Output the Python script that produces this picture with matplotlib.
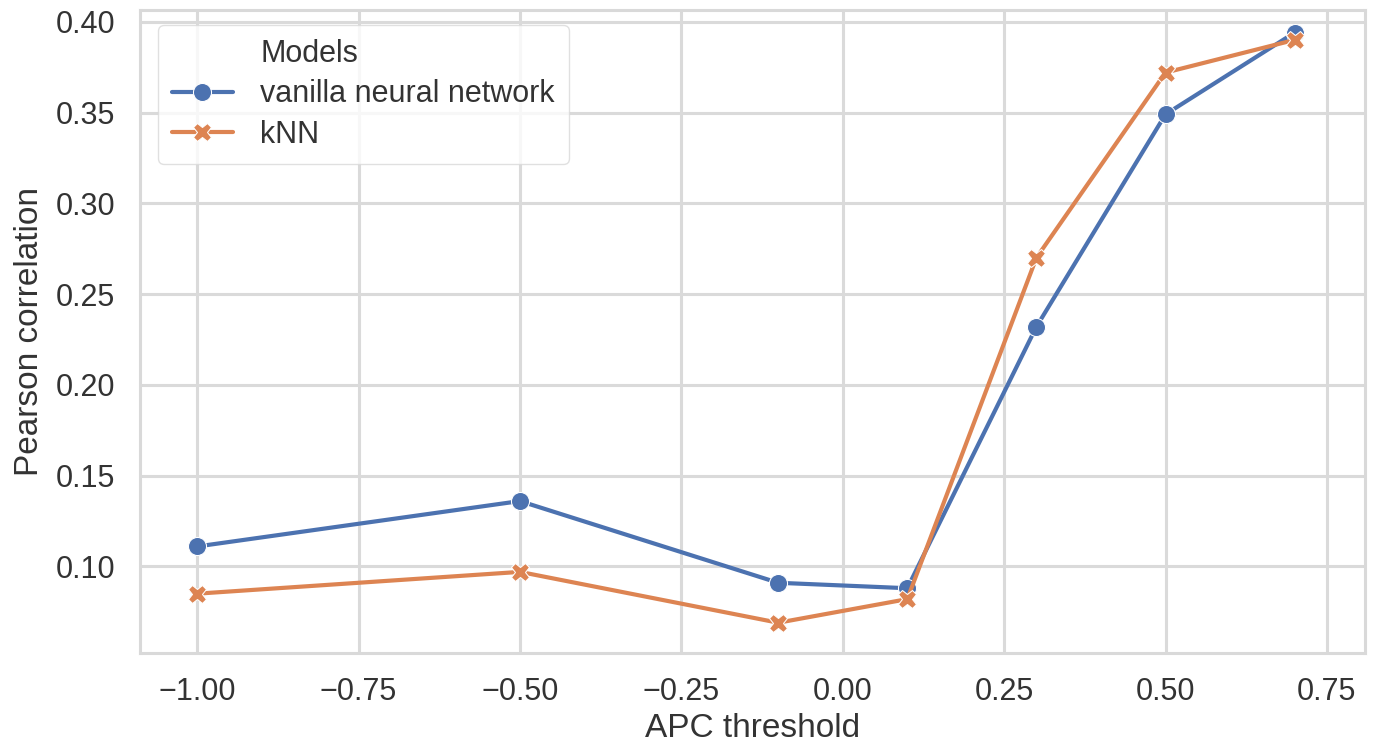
import matplotlib
matplotlib.use("Agg")
import matplotlib.pyplot as plt
from matplotlib.lines import Line2D
import seaborn as sns
import pandas as pd

# APC thresholds and Pearson correlation per model
thresholds = [-1.0, -0.5, -0.1, 0.1, 0.3, 0.5, 0.7]
vanilla_nn = [0.111, 0.136, 0.091, 0.088, 0.232, 0.349, 0.394]
knn = [0.085, 0.097, 0.069, 0.082, 0.270, 0.372, 0.390]
model_names = ["vanilla neural network", "kNN"]

df = pd.DataFrame({
    "APC threshold": thresholds * 2,
    "Pearson correlation": vanilla_nn + knn,
    "Models": [model_names[0]] * len(thresholds) + [model_names[1]] * len(thresholds),
})

sns.set_theme(style="whitegrid")
plt.rcParams['font.family'] = ['Arial', 'Liberation Sans', 'DejaVu Sans']
text_col = "#333333"

fig, ax = plt.subplots(figsize=(13.76, 7.5), dpi=100)
sns.lineplot(data=df, x="APC threshold", y="Pearson correlation", hue="Models",
             style="Models", markers=["o", "X"], dashes=False,
             markersize=13, linewidth=3, ax=ax)

ax.set_xlim(-1.088, 0.809)
ax.set_ylim(0.0526, 0.4066)
ax.set_xticks([-1.0, -0.75, -0.5, -0.25, 0.0, 0.25, 0.5, 0.75])
ax.tick_params(labelsize=22, colors=text_col, pad=12)
ax.set_xlabel("APC threshold", fontsize=24, color=text_col, labelpad=4)
ax.set_ylabel("Pearson correlation", fontsize=24, color=text_col, labelpad=8)
for s in ax.spines.values():
    s.set_color("#d9d9d9")
    s.set_linewidth(2.2)
ax.grid(color="#dadada", linewidth=2.2)

# legend title drawn as a handle-less first row, like older seaborn
handles, labels = ax.get_legend_handles_labels()
blank = Line2D([], [], linestyle="none", marker=None)
leg = ax.legend([blank] + handles, ["Models"] + labels, fontsize=22,
                loc="upper left", bbox_to_anchor=(0.002, 1.0),
                handlelength=2.0, handletextpad=0.9,
                labelspacing=0.35, borderpad=0.45)
leg.get_frame().set_edgecolor("#d9d9d9")
for t in leg.get_texts():
    t.set_color(text_col)

fig.subplots_adjust(left=0.102, right=0.992, top=0.987, bottom=0.13)
fig.savefig("out.png", dpi=100)
